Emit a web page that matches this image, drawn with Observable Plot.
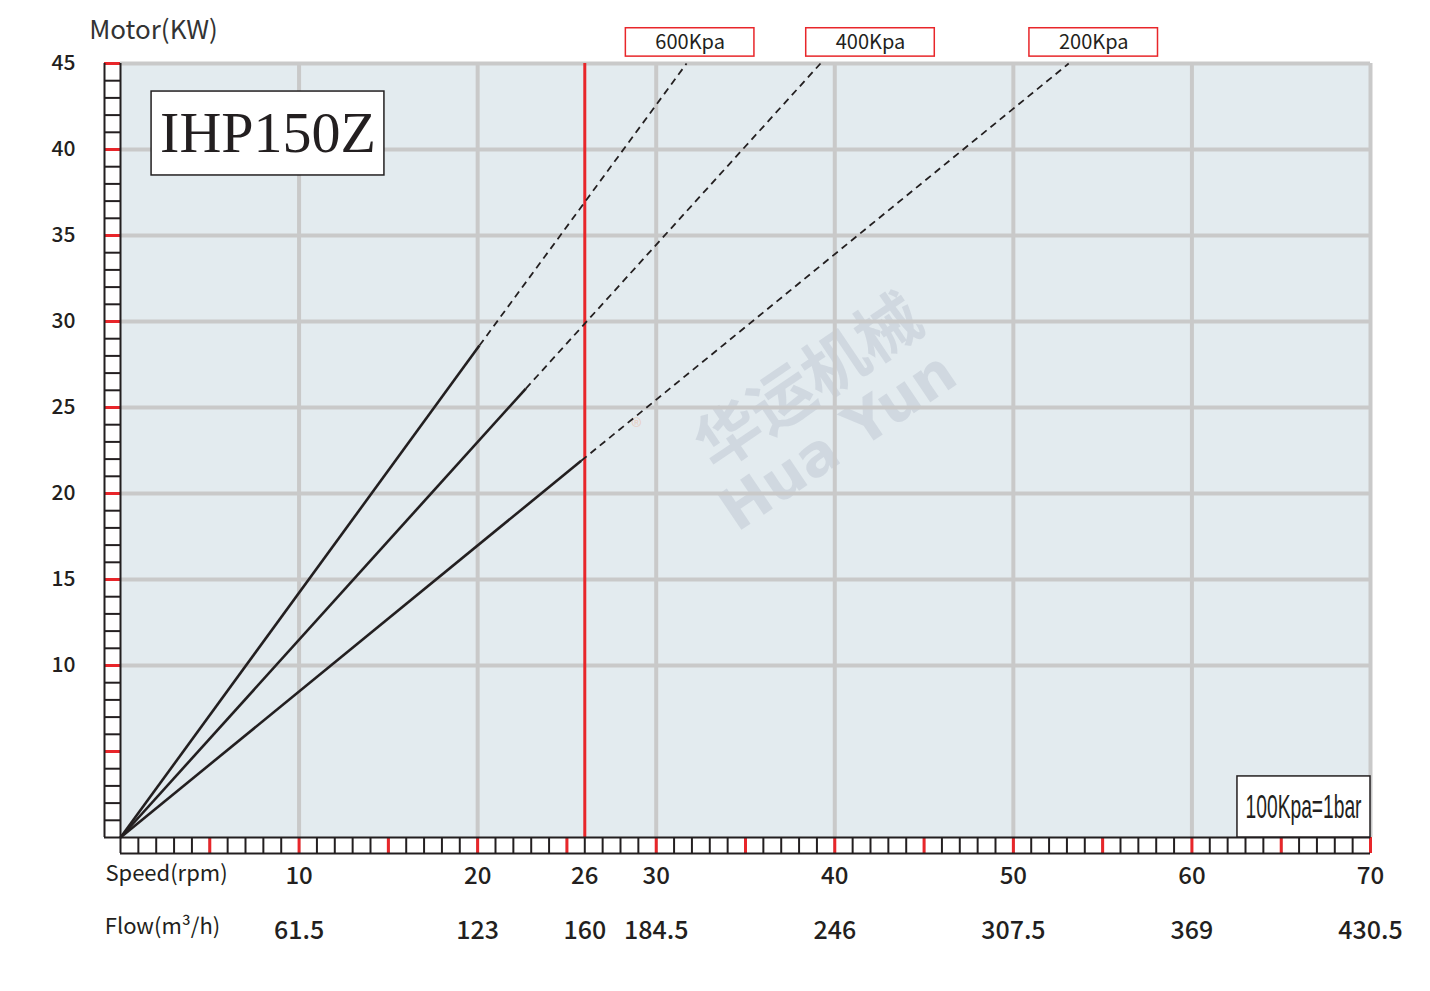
<!DOCTYPE html>
<html>
<head>
<meta charset="utf-8">
<script src="https://cdn.jsdelivr.net/npm/d3@7"></script>
<script src="https://cdn.jsdelivr.net/npm/@observablehq/plot@0.6"></script>
<style>
  html, body { margin: 0; padding: 0; background: #ffffff; }
  #chart svg { display: block; }
</style>
</head>
<body>
<div id="chart"></div>
<script>
// ---- data ----
const pressures      = ["600Kpa", "400Kpa", "200Kpa"];
const solidEndSpeed  = [20.1, 22.7, 25.8];   // rpm where the solid (rated) segment ends
const solidEndPower  = [28.6, 26.1, 21.9];   // kW at that speed
const dashEndSpeed   = [31.7, 39.2, 53.1];   // rpm where the dashed extension meets 45 kW
const dashEndPower   = [45, 45, 45];
const labelSpeed     = [31.9, 42.0, 54.5];   // rpm under each pressure label box
const speedTicks     = [10, 20, 26, 30, 40, 50, 60, 70];
const flowLabels     = ["61.5", "123", "160", "184.5", "246", "307.5", "369", "430.5"];
const powerTicks     = [10, 15, 20, 25, 30, 35, 40, 45];
const gridSpeed      = [10, 20, 30, 40, 50, 60, 70];
const gridPower      = [10, 15, 20, 25, 30, 35, 40, 45];
const ratedSpeed     = [26];
const modelName      = ["IHP150Z"];
const unitNote       = ["100Kpa=1bar"];

const INK = "#231f20";
const RED = "#e8262a";
const GRID = "#c9c9c9";
const SANS = "'Noto Sans CJK SC', 'Noto Sans', sans-serif";
const idx = pressures.map((_, i) => i);
const C = { textAnchor: "middle", lineAnchor: "middle" };

const chart = Plot.plot({
  width: 1430,
  height: 991,
  marginLeft: 120,
  marginRight: 60,
  marginTop: 63,
  marginBottom: 154,
  x: { domain: [0, 70] },
  y: { domain: [0, 45] },
  style: { background: "#ffffff", fontFamily: SANS, color: INK, overflow: "visible" },
  marks: [
    // plot background
    Plot.frame({ fill: "#e3ebef", stroke: null }),
    // watermark
    Plot.text(["华运机械"], { ...C, x: 38.6, y: 26.4, rotate: -34, fontSize: 64, fontWeight: "bold",
      fill: "#c3cbd6", fillOpacity: 0.6, fontFamily: SANS, letterSpacing: 4 }),
    Plot.text(["Hua Yun"], { ...C, x: 40.2, y: 23.0, rotate: -34, fontSize: 58, fontWeight: "bold",
      fill: "#c3cbd6", fillOpacity: 0.6, fontFamily: "'DejaVu Sans', sans-serif", letterSpacing: 10 }),
    Plot.text(["®"], { ...C, x: 28.9, y: 23.8, fontSize: 22, fill: "#eac7b7", fillOpacity: 0.7 }),
    // grid
    Plot.ruleX(gridSpeed, { x: d => d, y1: 0, y2: 45, stroke: GRID, strokeWidth: 4 }),
    Plot.ruleY(gridPower, { y: d => d, x1: 0, x2: 70, stroke: GRID, strokeWidth: 4 }),
    // rated-speed red line
    Plot.ruleX(ratedSpeed, { x: d => d, y1: 0, y2: 45, stroke: RED, strokeWidth: 3 }),
    // curves: solid segments from origin
    Plot.link(idx, { x1: 0, y1: 0, x2: i => solidEndSpeed[i], y2: i => solidEndPower[i],
      stroke: INK, strokeWidth: 2.6 }),
    // dashed extensions
    Plot.link(idx, { x1: i => solidEndSpeed[i], y1: i => solidEndPower[i],
      x2: i => dashEndSpeed[i], y2: i => dashEndPower[i],
      stroke: INK, strokeWidth: 1.8, strokeDasharray: "7,5" }),
    // left ladder axis
    Plot.axisY({ ticks: d3.range(0, 46), tickSize: 16, tickFormat: () => "", stroke: INK, strokeWidth: 2, label: null }),
    Plot.axisY({ ticks: d3.range(5, 46, 5), tickSize: 16, tickFormat: () => "", stroke: RED, strokeWidth: 3, label: null }),
    Plot.ruleX([0], { x: d => d, y1: 0, y2: 45, stroke: INK, strokeWidth: 2 }),
    Plot.ruleX([0], { x: d => d, y1: 0, y2: 45, dx: -16, stroke: INK, strokeWidth: 2 }),
    // bottom ladder axis
    Plot.axisX({ ticks: d3.range(0, 71), tickSize: 16, tickFormat: () => "", stroke: INK, strokeWidth: 2, label: null }),
    Plot.axisX({ ticks: d3.range(5, 71, 5), tickSize: 16, tickFormat: () => "", stroke: RED, strokeWidth: 3, label: null }),
    Plot.ruleY([0], { y: d => d, x1: 0, x2: 70, stroke: INK, strokeWidth: 2 }),
    Plot.ruleY([0], { y: d => d, x1: 0, x2: 70, dy: 16, stroke: INK, strokeWidth: 2 }),
    // y tick labels
    Plot.text(powerTicks, { ...C, y: d => d, frameAnchor: "left", dx: -57, text: d => String(d),
      fontSize: 21, fontWeight: 500, fill: INK }),
    // x tick labels
    Plot.text(speedTicks, { ...C, x: d => d, frameAnchor: "bottom", dy: 39, text: d => String(d),
      fontSize: 24, fontWeight: 500, fill: INK }),
    Plot.text(speedTicks, { ...C, x: d => d, frameAnchor: "bottom", dy: 93, text: (d, i) => flowLabels[i],
      fontSize: 25, fontWeight: 500, fill: INK }),
    // axis titles
    Plot.text(["Speed(rpm)"], { ...C, frameAnchor: "bottom-left", dx: 46, dy: 36, fontSize: 22,
      fill: INK, letterSpacing: 2.5 }),
    Plot.text(["Flow(m³/h)"], { ...C, frameAnchor: "bottom-left", dx: 42, dy: 89, fontSize: 22,
      fill: INK, letterSpacing: 2.5 }),
    Plot.text(["Motor(KW)"], { ...C, frameAnchor: "top-left", dx: 33, dy: -33, fontSize: 26,
      fill: "#333333", letterSpacing: 3.5 }),
    // pressure label boxes
    Plot.rect(idx, { x1: i => labelSpeed[i] - 3.6, x2: i => labelSpeed[i] + 3.6, y1: 45.4, y2: 47.05,
      fill: "#ffffff", stroke: RED, strokeWidth: 1.5 }),
    Plot.text(idx, { ...C, x: i => labelSpeed[i], frameAnchor: "top", dy: -21, text: i => pressures[i],
      fontSize: 20, fill: INK }),
    // model name box
    Plot.rect(modelName, { x1: 1.74, x2: 14.78, y1: 38.49, y2: 43.37, fill: "#ffffff", stroke: INK, strokeWidth: 1.5 }),
    Plot.text(modelName, { ...C, x: 8.26, y: 40.93, text: d => d, fontSize: 58, fill: INK,
      fontFamily: "'Liberation Serif', 'DejaVu Serif', serif", letterSpacing: 1.5 }),
    // unit note box
    Plot.rect(unitNote, { x1: 62.55, x2: 70, y1: 0, y2: 3.55, fill: "#ffffff", stroke: INK, strokeWidth: 1.5 }),
    Plot.text(unitNote, { ...C, x: 66.25, y: 1.75, text: d => d, fontSize: 34, fill: INK,
      fontFamily: "'Liberation Sans Narrow', 'Liberation Sans', sans-serif",
      className: "unit-note" })
  ]
});

document.getElementById("chart").appendChild(chart);
// squeeze the condensed unit note horizontally to its width in the reference
d3.select(chart).selectAll("g.unit-note text").each(function () {
  const t = d3.select(this);
  const base = t.attr("transform") || "";
  const w = this.getBBox().width;
  const s = w > 0 ? Math.min(1, 116 / w) : 0.7;
  t.attr("transform", `${base} scale(${s},1)`);
});
</script>
</body>
</html>
